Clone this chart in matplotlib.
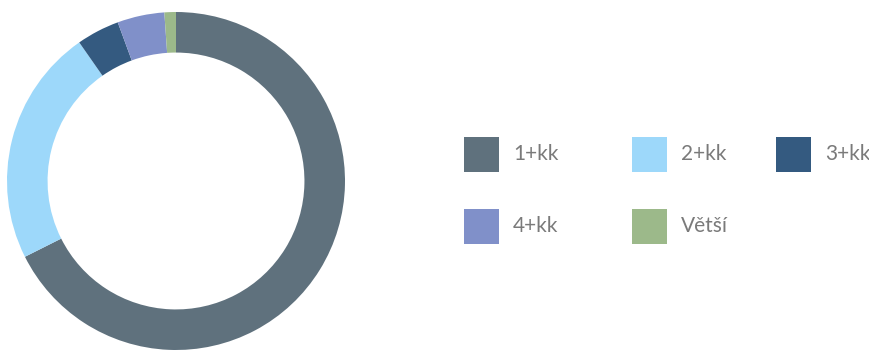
import matplotlib
matplotlib.use('Agg')
import matplotlib.pyplot as plt
from matplotlib.patches import Rectangle

# --- Data ---
categories = ['1+kk', '2+kk', '3+kk', '4+kk', 'Větší']
shares = [67.6, 22.7, 4.1, 4.5, 1.1]
colors = ['#5f717d', '#9dd8fa', '#345a80', '#8090c9', '#9cb98a']

plt.rcParams['font.family'] = ['Lato', 'DejaVu Sans']

fig = plt.figure(figsize=(8.7, 3.5), dpi=100)
ax = fig.add_axes([0, 0, 1, 1])

# --- Donut ---
radius = 169
ax.pie(shares, colors=colors, startangle=90, counterclock=False,
       radius=radius, center=(176, 169),
       wedgeprops=dict(width=radius * 0.24, linewidth=0))

ax.set_xlim(0, 870)
ax.set_ylim(0, 350)
ax.set_aspect('equal')
ax.axis('off')

# --- Legend (3 columns, 2 rows) ---
col_x = [464, 632, 776]
row_y = [350 - 154.5, 350 - 226.5]
box = 35
for i, (label, c) in enumerate(zip(categories, colors)):
    x = col_x[i % 3]
    y = row_y[i // 3]
    ax.add_patch(Rectangle((x, y - box / 2), box, box, facecolor=c, edgecolor='none'))
    ax.text(x + 49, y, label, ha='left', va='center', fontsize=15,
            fontweight='normal', color='#7a7a7a')

fig.savefig('out.png', dpi=100)
